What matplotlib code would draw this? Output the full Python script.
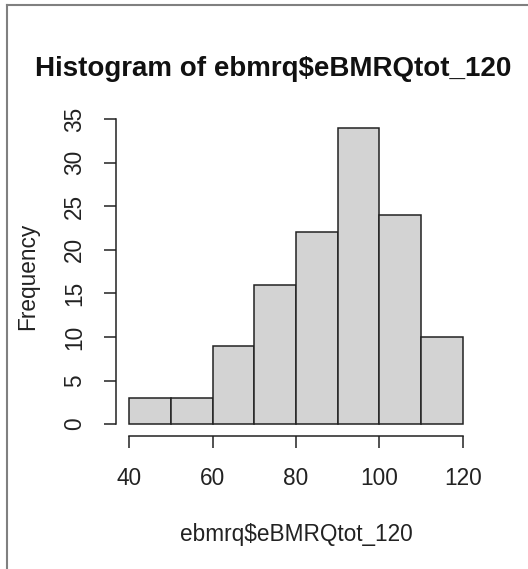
import matplotlib
matplotlib.use('Agg')
import matplotlib.pyplot as plt
from matplotlib.lines import Line2D

plt.rcParams['font.family'] = ['Liberation Sans', 'DejaVu Sans']

# Histogram bins and counts
breaks = [40, 50, 60, 70, 80, 90, 100, 110, 120]
counts = [3, 3, 9, 16, 22, 34, 24, 10]
xticks = [40, 60, 80, 100, 120]
yticks = [0, 5, 10, 15, 20, 25, 30, 35]

W, H = 528, 569
fig = plt.figure(figsize=(W / 100, H / 100), dpi=100)
fig.patch.set_facecolor('white')

# plot region in pixels (R-style, axes detached from the data)
left, right, top, bottom = 116, 476, 116, 436
ax = fig.add_axes([left / W, 1 - bottom / H, (right - left) / W, (bottom - top) / H])

ax.bar(breaks[:-1], counts, width=10, align='edge',
       color='#d3d3d3', edgecolor='#222222', linewidth=1.1)

# R pads the range by 4 % on each side
xr = breaks[-1] - breaks[0]
ax.set_xlim(breaks[0] - 0.04 * xr, breaks[-1] + 0.04 * xr)
ax.set_ylim(-0.04 * max(counts), 1.04 * max(counts))

for side in ['top', 'right']:
    ax.spines[side].set_visible(False)
ax.spines['left'].set_bounds(yticks[0], yticks[-1])
ax.spines['bottom'].set_bounds(xticks[0], xticks[-1])
for side in ['left', 'bottom']:
    ax.spines[side].set_linewidth(1.1)
    ax.spines[side].set_color('#222222')

ax.set_xticks(xticks)
ax.set_yticks(yticks)
ax.tick_params(axis='both', length=8.6, width=1.1, color='#222222',
               labelsize=16.3, labelcolor='#222222')
ax.tick_params(axis='x', pad=14)
ax.tick_params(axis='y', pad=13, labelrotation=90)
for lab in ax.get_yticklabels():
    lab.set_va('center')

fig.text(273 / W, 1 - 75.8 / H, 'Histogram of ebmrq$eBMRQtot_120',
         ha='center', va='baseline', fontsize=20, fontweight='bold', color='#111111')
fig.text(296 / W, 1 - 540.6 / H, 'ebmrq$eBMRQtot_120',
         ha='center', va='baseline', fontsize=16.3, color='#222222')
fig.text(28 / W, 1 - 276 / H, 'Frequency', rotation=90,
         ha='center', va='center', fontsize=16.3, color='#222222')

# grey screenshot frame on the left and top
fig.add_artist(Line2D([6.5 / W, 6.5 / W], [0, 1 - 5 / H], transform=fig.transFigure,
                      color='#808080', linewidth=1.5))
fig.add_artist(Line2D([6.5 / W, 1], [1 - 5 / H, 1 - 5 / H], transform=fig.transFigure,
                      color='#808080', linewidth=1.5))

plt.savefig('out.png', dpi=100)
